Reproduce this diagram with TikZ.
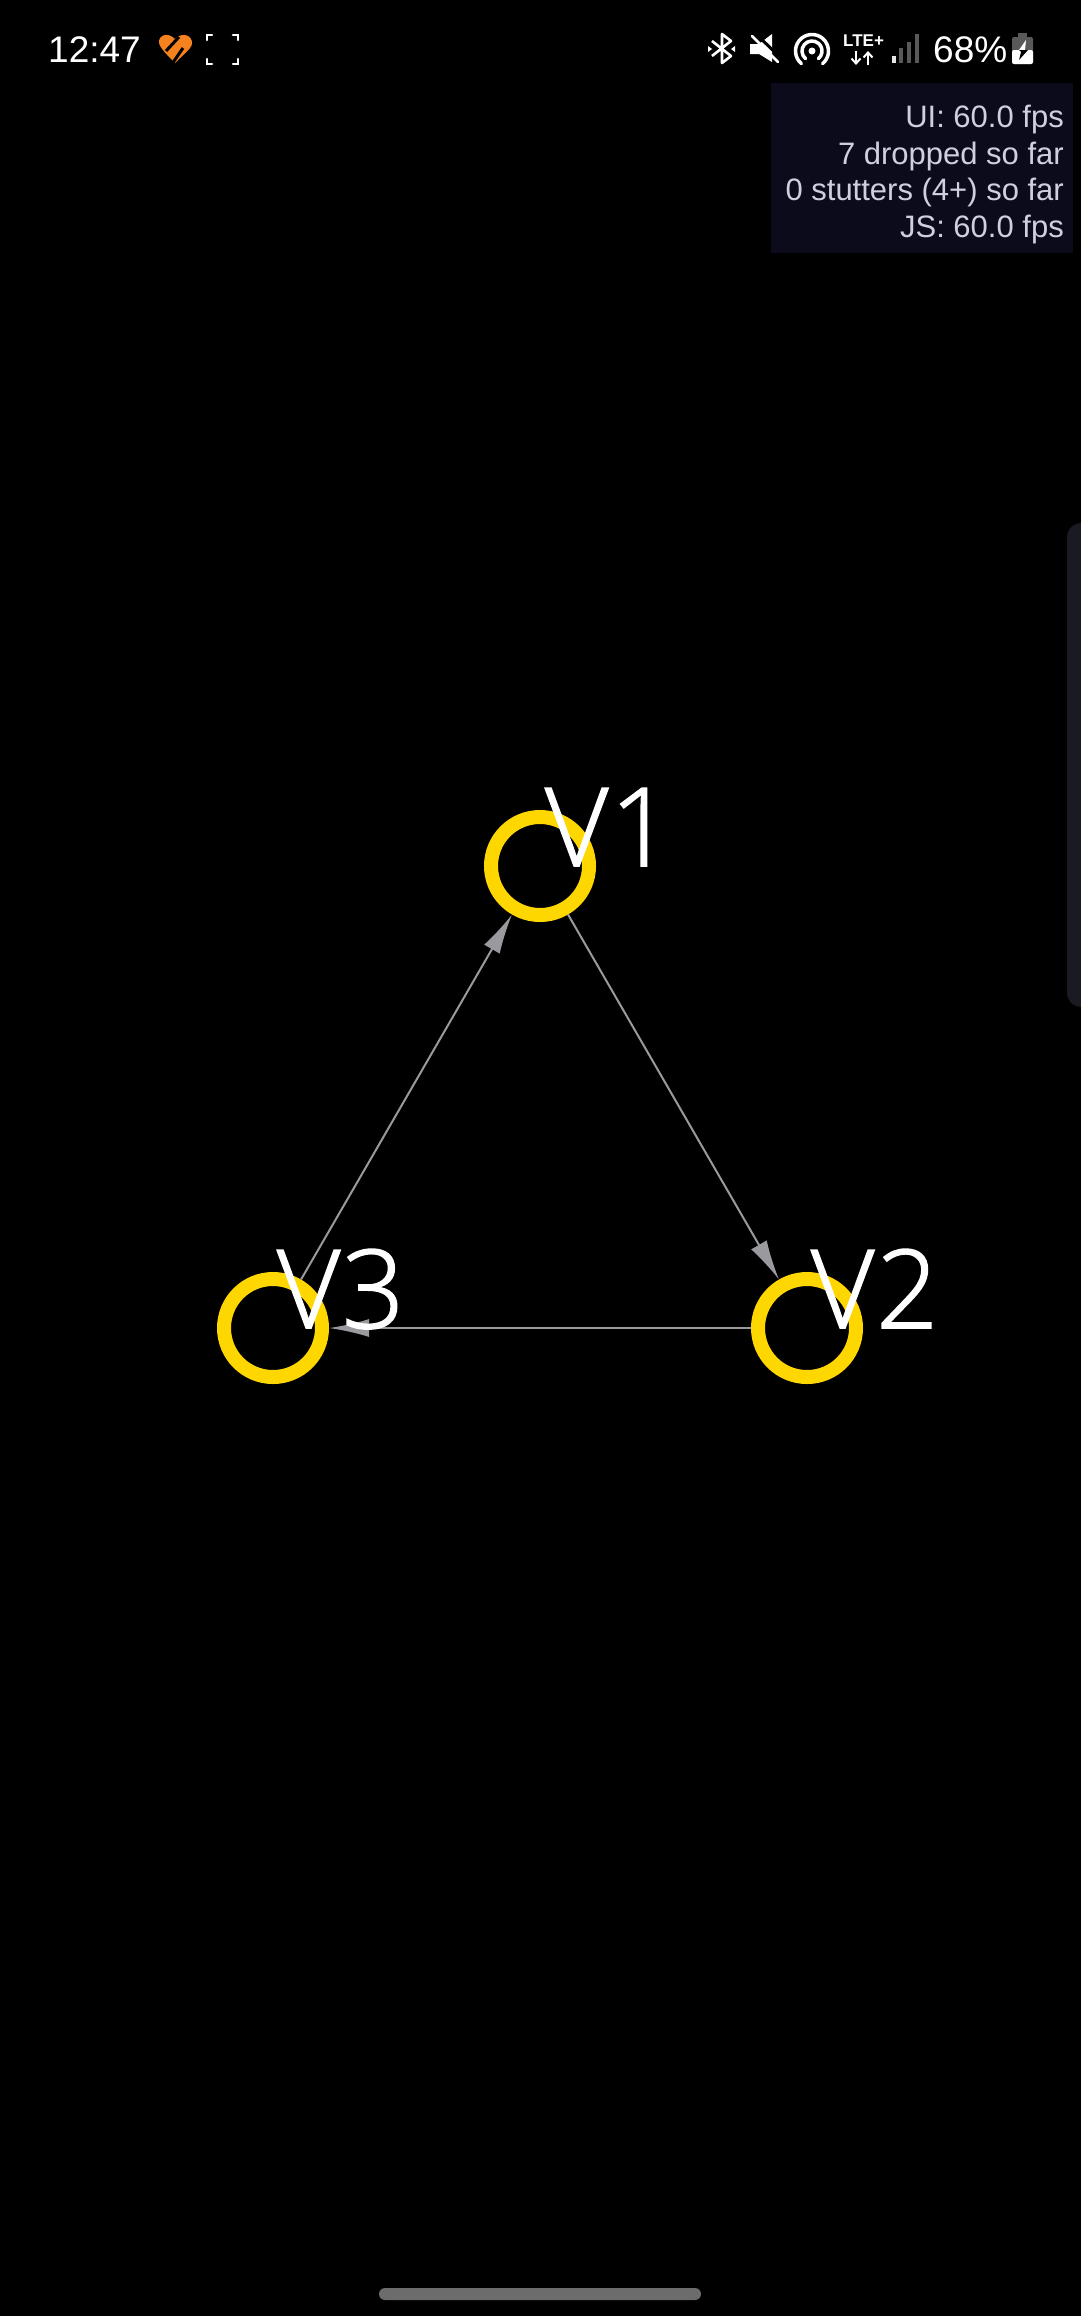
\documentclass[tikz,border=0pt]{standalone}
\usepackage{fontspec}
\setmainfont{Liberation Sans}
\newfontfamily\vertexfont[FakeBold=1.5,LetterSpace=2]{Open Sans Light}
\usetikzlibrary{arrows.meta}
\definecolor{ringgold}{HTML}{FFD700}
\definecolor{linkgray}{HTML}{9A9A9E}
\definecolor{fpspanel}{HTML}{0B0B1C}
\definecolor{fpstext}{HTML}{CFCFDD}
\definecolor{sidepanel}{HTML}{1A1A22}
\definecolor{homebar}{HTML}{6C6C6C}
\definecolor{heartorange}{HTML}{F5821F}
\tikzset{
  vertex/.style={circle, draw=ringgold, line width=14pt, minimum size=98pt, inner sep=0pt},
  vertexlabel/.style={anchor=base west, inner sep=0pt, text=white, font=\vertexfont\fontsize{109}{109}\selectfont},
  link/.style={draw=linkgray, line width=2pt, -{Latex[length=40pt,width=18pt,fill=linkgray]}},
  statustext/.style={inner sep=0pt, text=white, font=\fontsize{37}{37}\selectfont},
  fpsline/.style={anchor=base east, inner sep=0pt, text=fpstext, font=\fontsize{31}{31}\selectfont},
  icon/.style={draw=white, line width=2.6pt}
}
\begin{document}
\begin{tikzpicture}[x=1pt, y=-1pt]
\useasboundingbox (0,0) rectangle (1080,2316);
\fill[black] (-5,-5) rectangle (1085,2321);

\fill[fpspanel] (771,83) rectangle (1073,253);
\fill[sidepanel] (1085,523) -- (1080,523) .. controls (1071,525) and (1067,530) .. (1067,538) -- (1067,992) .. controls (1067,1000) and (1071,1005) .. (1080,1007) -- (1085,1007) -- cycle;
\fill[homebar, rounded corners=6pt] (379,2288) rectangle (701,2300);

\node[statustext, anchor=base west] (clock) at (48,62) {12:47};
\node[statustext, anchor=base west] (battery) at (933,62) {68\%};
\node[fpsline] (fpsui) at (1064,127) {UI: 60.0 fps};
\node[fpsline] (fpsdropped) at (1064,164) {7 dropped so far};
\node[fpsline] (fpsstutters) at (1064,200) {0 stutters (4+) so far};
\node[fpsline] (fpsjs) at (1064,237) {JS: 60.0 fps};
\node[anchor=base west, inner sep=0pt, text=white, font=\bfseries\fontsize{17}{17}\selectfont] (lte) at (843,46) {LTE+};

\fill[heartorange] (175,63) .. controls (168,56) and (160,48) .. (159,43) .. controls (158,36) and (167,31) .. (175,39) .. controls (183,31) and (193,36) .. (192,44) .. controls (191,49) and (182,56) .. (175,63) -- cycle;
\draw[black, line width=3pt] (166,51) -- (179,37);
\draw[black, line width=3pt] (172,64) -- (183,48);

\draw[icon, line cap=round] (207,40) -- (207,35) -- (212,35) (233,35) -- (238,35) -- (238,40) (207,59) -- (207,64) -- (212,64) (233,64) -- (238,64) -- (238,59);

\draw[icon, line join=round] (712,41) -- (731,56) -- (722,63) -- (722,34) -- (731,41) -- (712,56);
\fill[white] (708,46) -- (712,49) -- (708,52) -- cycle (735,46) -- (731,49) -- (735,52) -- cycle;

\fill[white] (750,44) -- (759,44) -- (772,34) -- (772,62) -- (759,54) -- (750,54) -- cycle;
\draw[black, line width=3pt] (756,34) -- (783,60);
\draw[icon, line cap=round] (752,36) -- (778,62);

\fill[white] (812,51) circle (3.5);
\draw[icon, line width=3.5pt, line cap=round] (812,51) ++(130:10) arc[start angle=130, end angle=410, radius=10];
\draw[icon, line width=3.5pt, line cap=round] (812,51) ++(130:16.5) arc[start angle=130, end angle=410, radius=16.5];

\draw[icon, line width=2pt, -{Straight Barb[length=5pt,width=9pt]}] (856,51) -- (856,65);
\draw[icon, line width=2pt, -{Straight Barb[length=5pt,width=9pt]}] (868,65) -- (868,51);

\fill[white!90!black] (892,56) rectangle (896,63);
\fill[white!35!black] (899,48) rectangle (903,63);
\fill[white!35!black] (907,42) rectangle (911,63);
\fill[white!35!black] (915,34) rectangle (919,63);

\fill[white!35!black, rounded corners=2pt] (1012,37) rectangle (1033,64);
\fill[white!35!black] (1018,33) rectangle (1027,38);
\fill[white, rounded corners=2pt] (1012,50) rectangle (1033,64);
\fill[white] (1026,40) -- (1019,50) -- (1025,50) -- cycle;
\fill[black] (1019,50) -- (1021,52) -- (1019,60) -- (1028,50) -- cycle;

\node[vertex] (v1) at (540,866) {};
\node[vertex] (v2) at (807,1328) {};
\node[vertex] (v3) at (273,1328) {};

\path[link]
(v1) edge (v2)
(v2) edge (v3)
(v3) edge (v1);

\node[vertexlabel] (v1label) at (545,866) {V1};
\node[vertexlabel] (v2label) at (811,1328) {V2};
\node[vertexlabel] (v3label) at (277,1328) {V3};
\end{tikzpicture}
\end{document}
